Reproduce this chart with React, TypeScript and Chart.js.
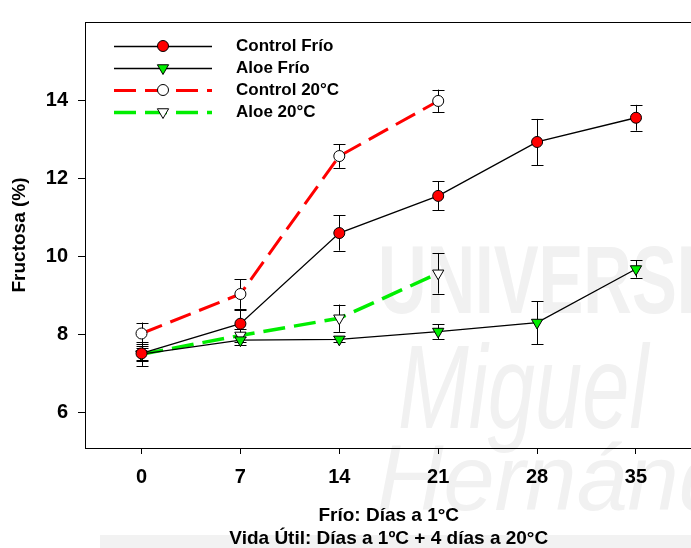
import React, { useEffect, useRef } from "react";
import { Chart, registerables } from "chart.js";
Chart.register(...registerables);

const days = [0, 7, 14, 21, 28, 35];
const days20 = [0, 7, 14, 21];
const controlFrio = [7.52, 8.28, 10.6, 11.55, 12.93, 13.55];
const controlFrioErr = [0.2, 0.35, 0.45, 0.37, 0.59, 0.33];
const aloeFrio = [7.5, 7.86, 7.88, 8.08, 8.31, 9.68];
const aloeFrioErr = [0.16, 0.12, 0.08, 0.19, 0.55, 0.22];
const control20 = [8.03, 9.04, 12.57, 13.98];
const control20Err = [0.28, 0.38, 0.3, 0.29];
const aloe20 = [7.5, 7.98, 8.42, 9.57];
const aloe20Err = [0.3, 0.16, 0.35, 0.52];
const xTicks = [0, 7, 14, 21, 28, 35];
const yTicks = [6, 8, 10, 12, 14];
const seriesNames = ["Control Frío", "Aloe Frío", "Control 20°C", "Aloe 20°C"];
const xTitle = ["Frío: Días a 1°C", "Vida Útil: Días a 1ºC + 4 días a 20°C"];
const yTitle = "Fructosa (%)";
const watermark = ["UNIVERSIDAD", "Miguel", "Hernández"];

const FONT = "'Liberation Sans', Arial, sans-serif";
const RED = "#ff0000";
const GREEN = "#00ee00";

const errors = [controlFrioErr, aloeFrioErr, control20Err, aloe20Err];

const watermarkPlugin = {
  id: "watermark",
  beforeDraw(chart: any) {
    const ctx = chart.ctx;
    ctx.save();
    ctx.fillStyle = "#fff";
    ctx.fillRect(0, 0, chart.width, chart.height);
    ctx.fillStyle = "#f2f2f2";
    ctx.fillRect(100, 535, 700, 13);
    ctx.fillStyle = "#f1f1f1";
    ctx.textBaseline = "alphabetic";
    ctx.save();
    ctx.translate(378, 313);
    ctx.scale(0.7, 1);
    ctx.font = `bold 96px ${FONT}`;
    ctx.fillText(watermark[0], 0, 0);
    ctx.restore();
    ctx.save();
    ctx.translate(398, 428);
    ctx.scale(0.72, 1);
    ctx.font = `italic 118px ${FONT}`;
    ctx.fillText(watermark[1], 0, 0);
    ctx.restore();
    ctx.save();
    ctx.translate(377, 510);
    ctx.font = `italic 92px ${FONT}`;
    ctx.fillText(watermark[2], 0, 0);
    ctx.restore();
    ctx.restore();
  },
};

const errorBarPlugin = {
  id: "errorBars",
  beforeDatasetsDraw(chart: any) {
    const ctx = chart.ctx;
    const xs = chart.scales.x;
    const ys = chart.scales.y;
    ctx.save();
    ctx.strokeStyle = "#000";
    ctx.lineWidth = 1;
    chart.data.datasets.forEach((ds: any, di: number) => {
      const errs = errors[di];
      ds.data.forEach((p: any, i: number) => {
        const x = Math.round(xs.getPixelForValue(p.x)) + 0.5;
        const y1 = ys.getPixelForValue(p.y + errs[i]);
        const y2 = ys.getPixelForValue(p.y - errs[i]);
        ctx.beginPath();
        ctx.moveTo(x, y1);
        ctx.lineTo(x, y2);
        ctx.moveTo(x - 6, Math.round(y1) + 0.5);
        ctx.lineTo(x + 6, Math.round(y1) + 0.5);
        ctx.moveTo(x - 6, Math.round(y2) + 0.5);
        ctx.lineTo(x + 6, Math.round(y2) + 0.5);
        ctx.stroke();
      });
    });
    ctx.restore();
  },
};

const framePlugin = {
  id: "frame",
  afterDraw(chart: any) {
    const ctx = chart.ctx;
    const a = chart.chartArea;
    ctx.save();
    ctx.strokeStyle = "#000";
    ctx.lineWidth = 1;
    ctx.strokeRect(Math.round(a.left) + 0.5, Math.round(a.top) + 0.5, a.right - a.left, a.bottom - a.top);
    // legend
    const rows = [46, 68, 90, 112];
    const x0 = 114, x1 = 212, xm = 163;
    rows.forEach((y, i) => {
      const ds = chart.data.datasets[i];
      ctx.save();
      ctx.strokeStyle = ds.borderColor;
      ctx.lineWidth = ds.borderWidth;
      ctx.setLineDash(ds.borderDash || []);
      ctx.beginPath();
      ctx.moveTo(x0, y + 0.5);
      ctx.lineTo(x1, y + 0.5);
      ctx.stroke();
      ctx.restore();
      ctx.save();
      ctx.fillStyle = ds.pointBackgroundColor;
      ctx.strokeStyle = "#000";
      ctx.lineWidth = 1;
      ctx.beginPath();
      if (ds.pointStyle === "circle") {
        ctx.arc(xm, y, ds.pointRadius, 0, Math.PI * 2);
      } else {
        const r = ds.pointRadius;
        ctx.moveTo(xm, y + r);
        ctx.lineTo(xm - r * Math.sin(Math.PI / 3), y - r / 2);
        ctx.lineTo(xm + r * Math.sin(Math.PI / 3), y - r / 2);
        ctx.closePath();
      }
      ctx.fill();
      ctx.stroke();
      ctx.restore();
      ctx.fillStyle = "#000";
      ctx.font = `bold 17px ${FONT}`;
      ctx.textBaseline = "middle";
      ctx.textAlign = "left";
      ctx.fillText(seriesNames[i], 236, y);
    });
    ctx.restore();
  },
};

export default function App() {
  const ref = useRef<HTMLCanvasElement>(null);
  useEffect(() => {
    if (!ref.current) return;
    const chart = new Chart(ref.current, {
      type: "line",
      data: {
        datasets: [
          {
            label: seriesNames[0],
            data: days.map((d, i) => ({ x: d, y: controlFrio[i] })),
            borderColor: "#000",
            borderWidth: 1.3,
            pointStyle: "circle",
            pointRadius: 5.5,
            pointBackgroundColor: RED,
            pointBorderColor: "#000",
            pointBorderWidth: 1,
          },
          {
            label: seriesNames[1],
            data: days.map((d, i) => ({ x: d, y: aloeFrio[i] })),
            borderColor: "#000",
            borderWidth: 1.3,
            pointStyle: "triangle",
            pointRotation: 180,
            pointRadius: 6.5,
            pointBackgroundColor: GREEN,
            pointBorderColor: "#000",
            pointBorderWidth: 1,
          },
          {
            label: seriesNames[2],
            data: days20.map((d, i) => ({ x: d, y: control20[i] })),
            borderColor: RED,
            borderWidth: 3,
            borderDash: [22, 9],
            pointStyle: "circle",
            pointRadius: 5.5,
            pointBackgroundColor: "#fff",
            pointBorderColor: "#000",
            pointBorderWidth: 1,
          },
          {
            label: seriesNames[3],
            data: days20.map((d, i) => ({ x: d, y: aloe20[i] })),
            borderColor: GREEN,
            borderWidth: 3.5,
            borderDash: [22, 9],
            pointStyle: "triangle",
            pointRotation: 180,
            pointRadius: 6.5,
            pointBackgroundColor: "#fff",
            pointBorderColor: "#000",
            pointBorderWidth: 1,
          },
        ],
      },
      options: {
        responsive: false,
        animation: false,
        layout: { padding: { top: 18, right: 3, left: 0, bottom: 0 } },
        plugins: { legend: { display: false }, tooltip: { enabled: false } },
        elements: { line: { tension: 0 } },
        scales: {
          x: {
            type: "linear",
            min: -4,
            max: 39,
            afterBuildTicks: (s: any) => {
              s.ticks = xTicks.map((v) => ({ value: v }));
            },
            afterFit: (s: any) => {
              s.height = 100;
            },
            grid: { drawOnChartArea: false, drawTicks: true, tickLength: 6, color: "#000" },
            border: { display: true, color: "#000" },
            ticks: { font: { family: FONT, size: 20, weight: "bold" }, color: "#000", padding: 11, maxRotation: 0 },
            title: {
              display: true,
              text: xTitle,
              font: { family: FONT, size: 19, weight: "bold", lineHeight: 1.2 },
              color: "#000",
              padding: { top: 0, bottom: -2 },
            },
          },
          y: {
            type: "linear",
            min: 5.1,
            max: 16,
            afterBuildTicks: (s: any) => {
              s.ticks = yTicks.map((v) => ({ value: v }));
            },
            afterFit: (s: any) => {
              s.width = 85;
            },
            grid: { drawOnChartArea: false, drawTicks: true, tickLength: 7, color: "#000" },
            border: { display: true, color: "#000" },
            ticks: { font: { family: FONT, size: 20, weight: "bold" }, color: "#000", padding: 10 },
            title: {
              display: true,
              text: yTitle,
              font: { family: FONT, size: 19, weight: "bold", lineHeight: 1.2 },
              color: "#000",
              padding: { top: 8, bottom: 0 },
            },
          },
        },
      },
      plugins: [watermarkPlugin, errorBarPlugin, framePlugin],
    } as any);
    return () => chart.destroy();
  }, []);
  return (
    <div style={{ position: "absolute", left: 0, top: 0, width: 691, height: 548, overflow: "hidden", background: "#fff" }}>
      <canvas ref={ref} width={700} height={548} style={{ display: "block" }} />
    </div>
  );
}
